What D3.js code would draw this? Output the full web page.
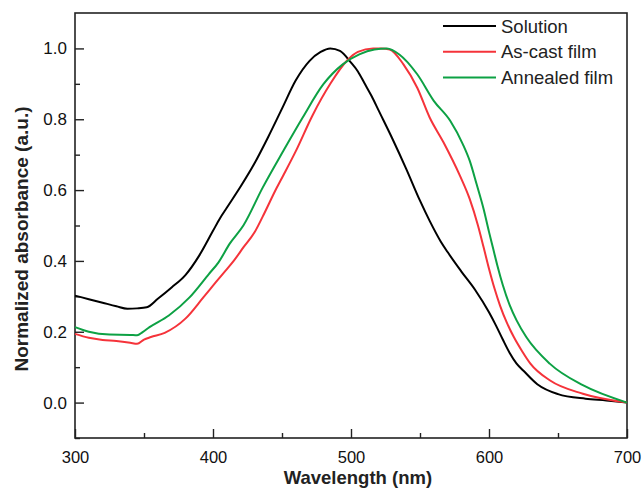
<!DOCTYPE html>
<html>
<head>
<meta charset="utf-8">
<script src="https://cdn.jsdelivr.net/npm/d3@7"></script>
<style>
  body { margin: 0; background: #fff; }
  text { font-family: "Liberation Sans", Arial, sans-serif; }
</style>
</head>
<body>
<svg id="chart" width="643" height="488"></svg>
<script>
const solutionNm = [300, 310, 320, 330, 338, 345, 352, 360, 370, 380, 390, 400, 405, 410, 420, 430, 440, 450, 460, 470, 478, 485, 492, 500, 505, 510, 515, 520, 530, 540, 550, 557, 565, 570, 580, 590, 600, 605, 610, 615, 620, 625, 635, 650, 670, 685, 700]
const solutionAbs = [0.302, 0.292, 0.282, 0.272, 0.265, 0.266, 0.269, 0.293, 0.325, 0.36, 0.415, 0.485, 0.52, 0.55, 0.61, 0.675, 0.75, 0.83, 0.91, 0.965, 0.99, 1.0, 0.993, 0.96, 0.935, 0.9, 0.865, 0.825, 0.745, 0.66, 0.57, 0.513, 0.455, 0.425, 0.37, 0.318, 0.255, 0.218, 0.178, 0.14, 0.11, 0.09, 0.052, 0.024, 0.011, 0.006, 0.0]

const asCastNm = [300, 310, 320, 330, 340, 345, 350, 355, 365, 380, 393, 400, 407, 415, 422, 430, 436, 446, 451, 460, 472, 485, 497, 505, 516, 522, 528, 538, 548, 557, 567, 579, 586, 592, 596, 600, 604, 608, 613, 618, 624, 630, 644, 668, 700]
const asCastAbs = [0.194, 0.183, 0.177, 0.174, 0.169, 0.166, 0.178, 0.185, 0.197, 0.237, 0.297, 0.33, 0.363, 0.4, 0.438, 0.48, 0.525, 0.605, 0.642, 0.71, 0.81, 0.9, 0.965, 0.99, 1.0, 1.0, 0.997, 0.955, 0.889, 0.805, 0.735, 0.64, 0.575, 0.5, 0.44, 0.378, 0.322, 0.274, 0.225, 0.185, 0.145, 0.11, 0.063, 0.025, 0.0]

const annealedNm = [300, 310, 325, 340, 345, 349, 354, 368, 383, 397, 404, 412, 422, 436, 451, 465, 480, 494, 506, 517, 526, 535, 548, 560, 572, 581, 586, 591, 596, 600, 603, 606, 610, 615, 620, 627, 644, 668, 700]
const annealedAbs = [0.213, 0.2, 0.192, 0.191, 0.19, 0.199, 0.213, 0.246, 0.297, 0.363, 0.396, 0.448, 0.5, 0.607, 0.711, 0.805, 0.899, 0.955, 0.983, 0.997, 1.0, 0.983, 0.927, 0.852, 0.795, 0.73, 0.683, 0.617, 0.548, 0.482, 0.435, 0.388, 0.332, 0.275, 0.232, 0.185, 0.11, 0.049, 0.0]

const seriesNames = ['Solution', 'As-cast film', 'Annealed film']
const seriesColors = ['#000000', '#f5333a', '#0da144']
const xTicks = [300, 400, 500, 600, 700]
const yTicks = [0.0, 0.2, 0.4, 0.6, 0.8, 1.0]

const width = 643
const height = 488
const margin = { top: 13, left: 75, bottom: 50, right: 16 }
const chartWidth = width - (margin.left + margin.right)
const chartHeight = height - (margin.top + margin.bottom)

const series = [
  { name: seriesNames[0], color: seriesColors[0], pts: solutionNm.map((x, i) => ({ x, y: solutionAbs[i] })) },
  { name: seriesNames[1], color: seriesColors[1], pts: asCastNm.map((x, i) => ({ x, y: asCastAbs[i] })) },
  { name: seriesNames[2], color: seriesColors[2], pts: annealedNm.map((x, i) => ({ x, y: annealedAbs[i] })) }
]

const svg = d3.select('#chart')
const g = svg.append('g').attr('transform', `translate(${margin.left},${margin.top})`)

const x = d3.scaleLinear().domain([300, 700]).range([0, chartWidth])
const y = d3.scaleLinear().domain([-0.1, 1.1]).range([chartHeight, 0])

// minor ticks
g.append('g')
  .attr('transform', `translate(0,${chartHeight})`)
  .call(d3.axisBottom(x).tickValues([350, 450, 550, 650]).tickSize(-5).tickFormat(''))
g.append('g')
  .call(d3.axisLeft(y).tickValues([-0.1, 0.1, 0.3, 0.5, 0.7, 0.9]).tickSize(-5).tickFormat(''))

// major ticks
const xAxis = g.append('g')
  .attr('transform', `translate(0,${chartHeight})`)
  .call(d3.axisBottom(x).tickValues(xTicks).tickSize(-9).tickPadding(13).tickFormat(d3.format('d')))
const yAxis = g.append('g')
  .call(d3.axisLeft(y).tickValues(yTicks).tickSize(-9).tickPadding(8).tickFormat(d3.format('.1f')))

g.selectAll('.domain').remove()
g.selectAll('.tick line').attr('stroke', '#222').attr('stroke-width', 1.4)
xAxis.selectAll('text').attr('font-size', 16.5).attr('fill', '#111')
yAxis.selectAll('text').attr('font-size', 17).attr('fill', '#111')

g.append('rect')
  .attr('width', chartWidth)
  .attr('height', chartHeight)
  .attr('fill', 'none')
  .attr('stroke', '#222')
  .attr('stroke-width', 1.6)

const line = d3.line()
  .x(d => x(d.x))
  .y(d => y(d.y))
  .curve(d3.curveMonotoneX)

g.selectAll('path.series')
  .data(series)
  .enter()
  .append('path')
  .attr('class', 'series')
  .attr('d', d => line(d.pts))
  .attr('fill', 'none')
  .attr('stroke', d => d.color)
  .attr('stroke-width', 2)

// legend
const legend = svg.append('g').attr('transform', 'translate(443,26)')
const items = legend.selectAll('g')
  .data(series)
  .enter()
  .append('g')
  .attr('transform', (d, i) => `translate(0,${i * 25.7})`)
items.append('line')
  .attr('x1', 0).attr('x2', 53)
  .attr('stroke', d => d.color)
  .attr('stroke-width', 2)
items.append('text')
  .attr('x', 58)
  .attr('dy', '0.36em')
  .attr('font-size', 18.5)
  .attr('fill', '#222')
  .text(d => d.name)

// axis titles
svg.append('text')
  .attr('x', margin.left + x(505))
  .attr('y', 484)
  .attr('text-anchor', 'middle')
  .attr('font-size', 18.5)
  .attr('font-weight', 'bold')
  .attr('fill', '#222')
  .text('Wavelength (nm)')

svg.append('text')
  .attr('transform', 'translate(28,239) rotate(-90)')
  .attr('text-anchor', 'middle')
  .attr('font-size', 19)
  .attr('font-weight', 'bold')
  .attr('fill', '#222')
  .text('Normalized absorbance (a.u.)')
</script>
</body>
</html>
